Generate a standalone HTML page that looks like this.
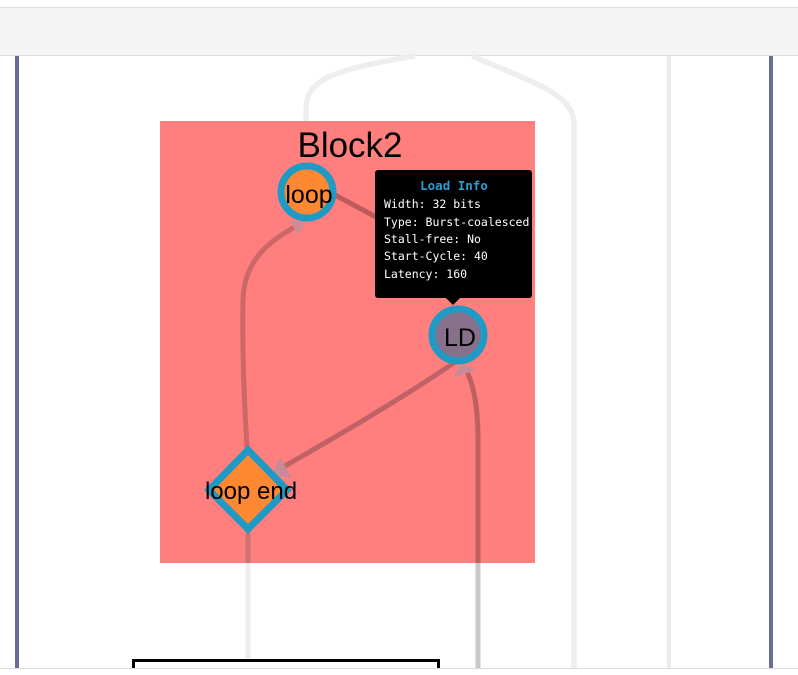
<!DOCTYPE html>
<html><head><meta charset="utf-8"><style>
html,body{margin:0;padding:0;background:#fff;width:798px;height:675px;overflow:hidden}
svg{display:block}
.tt{font-family:"DejaVu Sans Mono","Liberation Mono",monospace;font-size:11.5px;fill:#fff}
</style></head><body>
<svg width="798" height="675" viewBox="0 0 798 675" xmlns="http://www.w3.org/2000/svg">
<rect x="0" y="0" width="798" height="675" fill="#fff"/>
<rect x="0" y="7" width="798" height="48" fill="#f4f4f4"/>
<line x1="0" y1="7.5" x2="798" y2="7.5" stroke="#dcdcdc"/>
<line x1="0" y1="55.5" x2="798" y2="55.5" stroke="#dcdcdc"/>
<rect x="15" y="56" width="4" height="612" fill="#6c6c9a"/>
<rect x="769" y="56" width="4" height="612" fill="#6c6c9a"/>
<line x1="669" y1="56" x2="669" y2="668" stroke="#ebebeb" stroke-width="4"/>
<path d="M307,168 L306,110 C306,80 330,70 415,56" fill="none" stroke="#eeeeee" stroke-width="5.5"/>
<path d="M472,56 C540,85 574,95 574,125 L574,668" fill="none" stroke="#eeeeee" stroke-width="5.5"/>
<rect x="160" y="121" width="375" height="442" fill="#ff7f7f"/>
<text x="350" y="157" font-family="Liberation Sans,sans-serif" font-size="35" text-anchor="middle" fill="#000">Block2</text>
<path d="M247,448 C244,400 242,340 243,300 C244,260 270,240 297,226" fill="none" stroke="#c06060" stroke-opacity="0.8" stroke-width="5"/>
<polygon points="290,220 306,222 298,236" fill="#d28a95"/>
<path d="M455,362 C400,400 330,440 285,466" fill="none" stroke="#b05a60" stroke-opacity="0.8" stroke-width="5"/>
<polygon points="272,475 280,457 292,478" fill="#c98a98"/>
<path d="M478,563 L478,440 C478,410 474,385 466,370" fill="none" stroke="#bf6060" stroke-width="5"/>
<line x1="478" y1="563" x2="478" y2="668" stroke="#c8c8c8" stroke-width="5"/>
<polygon points="452,378 462,364 476,370" fill="#c98a98"/>
<path d="M248,532 L248,563" stroke="#d07070" stroke-width="5"/>
<line x1="248" y1="563" x2="248" y2="668" stroke="#ededed" stroke-width="5"/>
<line x1="335" y1="195" x2="378" y2="218" stroke="#c05a5a" stroke-width="5"/>
<circle cx="307" cy="192" r="26" fill="#ff8833" stroke="#1f9ac4" stroke-width="7"/>
<text x="309" y="203" font-family="Liberation Sans,sans-serif" font-size="25" text-anchor="middle">loop</text>
<circle cx="458" cy="335" r="26" fill="#86708a" stroke="#1f9ac4" stroke-width="7"/>
<text x="460" y="346" font-family="Liberation Sans,sans-serif" font-size="25" text-anchor="middle">LD</text>
<polygon points="248,450 287,490 248,529 209,490" fill="#ff8833" stroke="#1f9ac4" stroke-width="7"/>
<text x="251" y="499" font-family="Liberation Sans,sans-serif" font-size="24" text-anchor="middle">loop end</text>
<rect x="375" y="170" width="157" height="128" rx="3" fill="#000"/>
<polygon points="446,298 460,298 453,305" fill="#000"/>
<text x="454" y="190" class="tt" text-anchor="middle" style="fill:#2a9fd0;font-weight:bold;font-size:12.5px">Load Info</text>
<text x="384" y="208" class="tt">Width: 32 bits</text>
<text x="384" y="226" class="tt">Type: Burst-coalesced</text>
<text x="384" y="243" class="tt">Stall-free: No</text>
<text x="384" y="260" class="tt">Start-Cycle: 40</text>
<text x="384" y="278" class="tt">Latency: 160</text>
<rect x="133.5" y="660.5" width="305" height="20" fill="#fff" stroke="#000" stroke-width="3"/>
<rect x="0" y="668" width="798" height="7" fill="#fff"/>
<line x1="0" y1="668.5" x2="798" y2="668.5" stroke="#dcdcdc"/>
</svg>
</body></html>
